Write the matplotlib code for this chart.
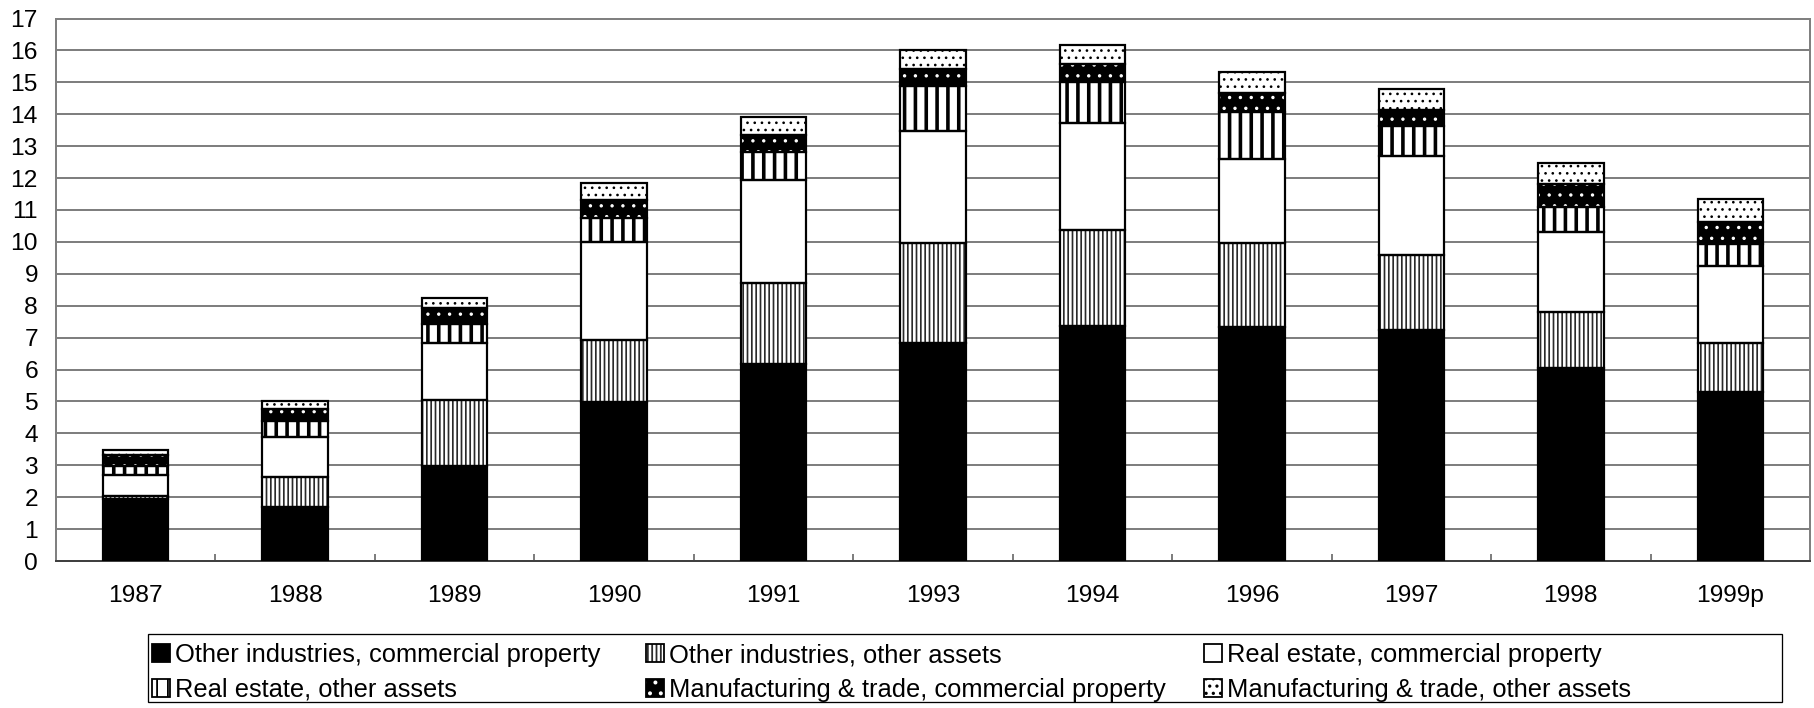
import matplotlib
matplotlib.use("Agg")
import matplotlib.pyplot as plt
from matplotlib.patches import Patch, Rectangle
from matplotlib.ticker import FixedLocator
import numpy as np

years = ['1987', '1988', '1989', '1990', '1991', '1993', '1994', '1996', '1997', '1998', '1999p']

oi_commercial = [1.95, 1.69, 2.98, 4.98, 6.16, 6.83, 7.35, 7.32, 7.23, 6.05, 5.29]
oi_other      = [0.08, 0.95, 2.08, 1.96, 2.55, 3.15, 3.03, 2.63, 2.37, 1.75, 1.53]
re_commercial = [0.65, 1.24, 1.76, 3.06, 3.23, 3.50, 3.33, 2.65, 3.09, 2.52, 2.43]
re_other      = [0.29, 0.51, 0.60, 0.75, 0.87, 1.41, 1.29, 1.48, 0.95, 0.76, 0.69]
mt_commercial = [0.36, 0.38, 0.50, 0.55, 0.54, 0.54, 0.56, 0.60, 0.48, 0.72, 0.67]
mt_other      = [0.16, 0.23, 0.32, 0.54, 0.55, 0.59, 0.62, 0.65, 0.68, 0.66, 0.73]

labels = ['Other industries, commercial property',
          'Other industries, other assets',
          'Real estate, commercial property',
          'Real estate, other assets',
          'Manufacturing & trade, commercial property',
          'Manufacturing & trade, other assets']

DPI = 130
W, H = 1814, 708
plt.rcParams['font.family'] = ['Liberation Sans', 'DejaVu Sans']
plt.rcParams['savefig.bbox'] = None

def px(v):
    return v * 72.0 / DPI

fig = plt.figure(figsize=(W / DPI, H / DPI), dpi=DPI)
ax = fig.add_axes([56 / W, 1 - 561 / H, (1810 - 56) / W, (561 - 18.5) / H])

x = np.arange(len(years))
bw = 0.41
elw = px(2.2)

styles = [
    dict(face='black', hc='black', hatch=None, hlw=1.0),
    dict(face='white', hc='#2a2a2a', hatch='|||||', hlw=1.7),
    dict(face='white', hc='black', hatch=None, hlw=1.0),
    dict(face='white', hc='black', hatch='||', hlw=3.6),
    dict(face='black', hc='white', hatch='..', hlw=1.2),
    dict(face='white', hc='black', hatch='...', hlw=1.2),
]
series = [oi_commercial, oi_other, re_commercial, re_other, mt_commercial, mt_other]

bottom = np.zeros(len(years))
handles = []
for vals, st in zip(series, styles):
    vals = np.array(vals)
    with plt.rc_context({'hatch.linewidth': px(st['hlw'])}):
        ax.bar(x, vals, bw, bottom=bottom, color=st['face'], edgecolor=st['hc'],
               hatch=st['hatch'], linewidth=0, zorder=3)
        hp = Patch(facecolor=st['face'], edgecolor=st['hc'], hatch=st['hatch'], linewidth=0)
    ax.bar(x, vals, bw, bottom=bottom, fill=False, edgecolor='black',
           linewidth=elw, zorder=4)
    ep = Patch(fill=False, edgecolor='black', linewidth=px(1.8))
    handles.append((hp, ep))
    bottom += vals

ax.set_xlim(-0.5, len(years) - 0.5)
ax.set_ylim(0, 17)
ax.set_yticks(range(0, 18))
ax.yaxis.grid(True, color='#606060', linewidth=px(1.6), zorder=0)
ax.set_axisbelow(True)

ax.set_xticks(x)
ax.set_xticklabels(years)
ax.xaxis.set_minor_locator(FixedLocator(np.arange(0.5, len(years) - 0.5, 1.0)))
ax.tick_params(axis='x', which='major', length=0, pad=px(24), labelsize=px(24.5))
ax.tick_params(axis='x', which='minor', direction='in', length=px(7),
               width=px(1.6), color='#606060')
ax.tick_params(axis='y', length=0, pad=px(18), labelsize=px(24.5))

for s in ax.spines.values():
    s.set_color('#808080')
    s.set_linewidth(px(2))
ax.spines['bottom'].set_color('#404040')

# legend frame (figure pixel coordinates measured from top)
box_l, box_r, box_t, box_b = 148, 1782, 634, 702
fig.add_artist(Rectangle((box_l / W, 1 - box_b / H), (box_r - box_l) / W, (box_b - box_t) / H,
                         transform=fig.transFigure, fill=False, edgecolor='black',
                         linewidth=px(1.3), zorder=5))
col_x = [152, 646, 1204]
row_y = [655, 690]
for i in range(6):
    c, r = i % 3, i // 3
    fig.legend([handles[i]], [labels[i]],
               loc='center left', bbox_to_anchor=(col_x[c] / W, 1 - row_y[r] / H),
               fontsize=px(25.5), frameon=False,
               handlelength=0.72, handleheight=0.72, handletextpad=0.2,
               borderpad=0, borderaxespad=0)

fig.savefig('out.png', dpi=DPI)
